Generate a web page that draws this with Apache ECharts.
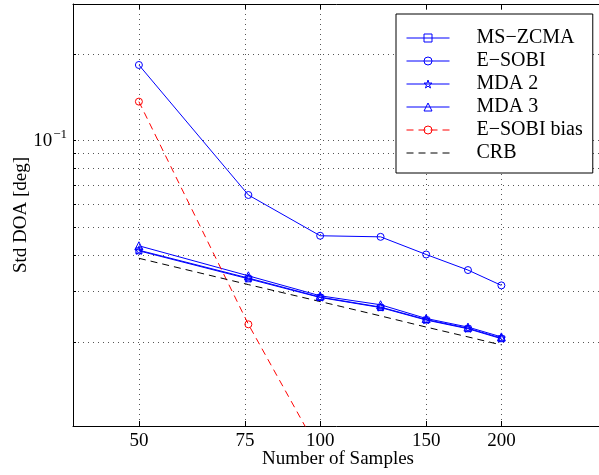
<!DOCTYPE html>
<html><head><meta charset="utf-8">
<script src="https://cdn.jsdelivr.net/npm/echarts@6/dist/echarts.min.js"></script>
<style>html,body{margin:0;padding:0;background:#fff}#c{width:599px;height:475px}</style>
</head><body><div id="c"></div>
<script>
// ---- data ----
const samples = [50, 76, 100, 126, 150, 176, 200];
const msZcma = [0.0414, 0.0331, 0.0285, 0.0263, 0.0238, 0.0222, 0.0205];
const eSobi = [0.183, 0.0647, 0.0467, 0.0463, 0.0402, 0.0355, 0.0314];
const mda2 = [0.0416, 0.0333, 0.0286, 0.0264, 0.0239, 0.0223, 0.0206];
const mda3 = [0.0431, 0.0339, 0.0289, 0.0269, 0.0241, 0.0225, 0.0208];
const biasSamples = [50, 76, 100];
const eSobiBias = [0.1365, 0.0230, 0.0082];
const crb = [0.0390, 0.0316, 0.0276, 0.0246, 0.0225, 0.0208, 0.0195];
const xTicks = [50, 75, 100, 150, 200];
const yGrid = [0.02, 0.03, 0.04, 0.05, 0.06, 0.07, 0.08, 0.09, 0.1, 0.2];
const yLabels = [0.1];
const names = ['MS\u2212ZCMA', 'E\u2212SOBI', 'MDA 2', 'MDA 3', 'E\u2212SOBI bias', 'CRB'];

const FF = 'Liberation Serif';
const BLUE = '#0000ff', RED = '#ff0000';
const STAR = 'path://M50,0 L61.8,36.2 L100,36.2 L69.1,58.6 L80.9,95 L50,72.6 L19.1,95 L30.9,58.6 L0,36.2 L38.2,36.2 Z';
const pairs = (xs, ys) => xs.map((x, i) => [x, ys[i]]);

function lineSeries(name, xs, ys, color, symbol, size, dashed) {
  return {
    name, type: 'line', data: pairs(xs, ys), xAxisIndex: 0, yAxisIndex: 0,
    symbol: symbol || 'circle', symbolSize: size || 0, showSymbol: !!symbol,
    clip: true, animation: false,
    lineStyle: { color, width: 1, type: dashed ? [7, 5] : 'solid' },
    itemStyle: symbol ? { color: 'rgba(0,0,0,0)', borderColor: color, borderWidth: 1 }
                      : { color: 'rgba(0,0,0,0)', borderWidth: 0 },
    emphasis: { disabled: true }
  };
}

const chart = echarts.init(document.getElementById('c'), null, { renderer: 'canvas' });
const axisCommon = { type: 'log', logBase: 10, min: 38.86, max: 295 };
chart.setOption({
  backgroundColor: '#fff',
  animation: false,
  grid: { left: 73, top: 4, right: -4, bottom: 49, containLabel: false, outerBoundsMode: 'none' },
  xAxis: [
    Object.assign({}, axisCommon, {
      position: 'bottom',
      axisLine: { show: true, onZero: false, lineStyle: { color: '#000', width: 1 } },
      axisTick: { show: true, inside: true, length: 5, customValues: xTicks, lineStyle: { color: '#000' } },
      axisLabel: { show: true, customValues: xTicks, margin: 6, color: '#000', fontFamily: FF, fontSize: 19,
                   formatter: v => String(Math.round(v)) },
      splitLine: { show: true, lineStyle: { color: '#555', type: [1, 4], width: 1 } },
      minorTick: { show: false }, minorSplitLine: { show: false },
      name: 'Number of Samples', nameLocation: 'middle', nameGap: 24, nameMoveOverlap: false,
      nameTextStyle: { color: '#000', fontFamily: FF, fontSize: 19 }
    }),
    Object.assign({}, axisCommon, {
      position: 'top',
      axisLine: { show: true, onZero: false, lineStyle: { color: '#000', width: 1 } },
      axisTick: { show: true, inside: true, length: 5, customValues: xTicks, lineStyle: { color: '#000' } },
      axisLabel: { show: false }, splitLine: { show: false }
    })
  ],
  yAxis: [{
    type: 'log', logBase: 10, min: 0.0102, max: 0.298, position: 'left',
    axisLine: { show: true, onZero: false, lineStyle: { color: '#000', width: 1 } },
    axisTick: { show: true, inside: true, length: 3, customValues: yGrid, lineStyle: { color: '#000' } },
    axisLabel: {
      show: true, customValues: yLabels, margin: 6, color: '#000', fontFamily: FF,
      formatter: v => '{b|10}{s|\u22121}',
      rich: {
        b: { fontSize: 19, fontFamily: FF, color: '#000', lineHeight: 19, verticalAlign: 'bottom' },
        s: { fontSize: 13, fontFamily: FF, color: '#000', lineHeight: 13, padding: [0, 0, 9, 1], verticalAlign: 'bottom' }
      }
    },
    splitLine: { show: true, lineStyle: { color: '#555', type: [1, 4], width: 1 } },
    minorTick: { show: false }, minorSplitLine: { show: false },
    name: 'Std DOA [deg]', nameLocation: 'middle', nameGap: 42, nameRotate: 90, nameMoveOverlap: false,
    nameTextStyle: { color: '#000', fontFamily: FF, fontSize: 19 }
  }],
  legend: {
    show: true, orient: 'vertical', left: 396, top: 14,
    data: names.map(n => ({ name: n, itemStyle: { color: 'rgba(0,0,0,0)' } })),
    selectedMode: false,
    itemWidth: 43, itemHeight: 10, itemGap: 3,
    padding: [14, 10, 10, 10],
    lineStyle: { width: 1 },
    itemStyle: { borderWidth: 1 },
    backgroundColor: '#fff', borderColor: '#000', borderWidth: 1, borderRadius: 0,
    textStyle: { fontFamily: FF, fontSize: 20, color: '#000', lineHeight: 20, padding: [0, 0, 0, 22] }
  },
  series: [
    lineSeries(names[0], samples, msZcma, BLUE, 'rect', 6),
    lineSeries(names[1], samples, eSobi, BLUE, 'circle', 7),
    lineSeries(names[2], samples, mda2, BLUE, STAR, 8),
    lineSeries(names[3], samples, mda3, BLUE, 'triangle', 8),
    lineSeries(names[4], biasSamples, eSobiBias, RED, 'circle', 7, true),
    lineSeries(names[5], samples, crb, '#000', null, 0, true)
  ]
});
</script></body></html>
